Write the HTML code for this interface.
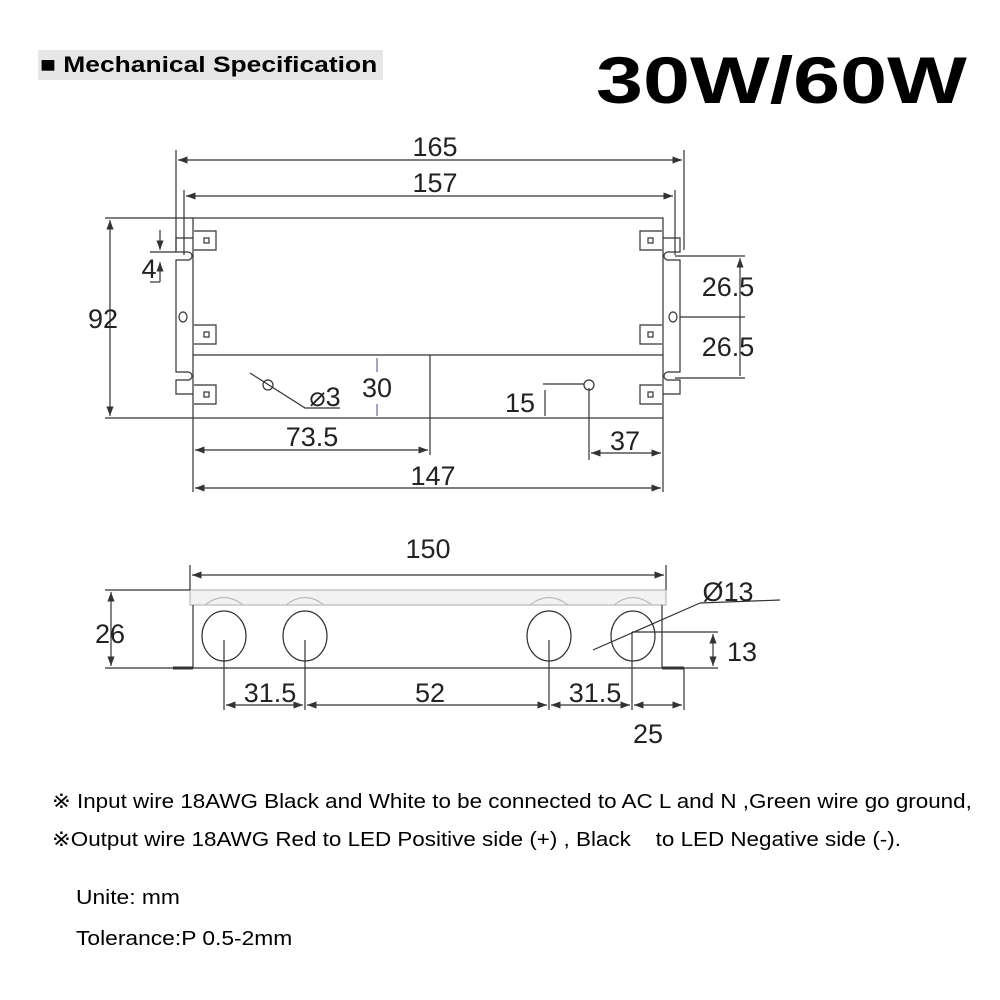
<!DOCTYPE html>
<html><head><meta charset="utf-8"><style>
body{margin:0;background:#fff;width:1000px;height:1000px;overflow:hidden;position:relative;font-family:"Liberation Sans",sans-serif}
.hdr{position:absolute;left:38px;top:50px;width:345px;height:30px;background:#e6e6e6;color:#000}
.hdr span{position:absolute;left:2px;top:0;font-weight:bold;font-size:22px;line-height:30px;white-space:nowrap;transform-origin:0 50%;transform:scaleX(1.2)}
.big{position:absolute;left:596px;top:40px;font-weight:bold;font-size:66px;line-height:80px;transform-origin:0 0;transform:scaleX(1.28);color:#000;white-space:nowrap}
.t{position:absolute;font-size:20px;color:#000;white-space:nowrap;transform-origin:0 0;transform:scaleX(1.12)}
</style></head><body>
<div class="hdr"><span>&#9632; Mechanical Specification</span></div>
<div class="big">30W/60W</div>
<svg width="1000" height="1000" style="position:absolute;left:0;top:0" font-family="Liberation Sans, sans-serif" font-size="21" fill="none" stroke="#333" stroke-width="1.2">
<defs><marker id="a" markerWidth="8" markerHeight="6" refX="8" refY="3" orient="auto-start-reverse"><path d="M0,0L8,3L0,6z" fill="#333" stroke="none"/></marker></defs>
<rect x="193" y="218" width="470" height="200"/>
<line x1="193" y1="355" x2="663" y2="355"/>
<line x1="430" y1="355" x2="430" y2="455"/>
<path d="M193,238H176V252H188A4,4 0 0 1 188,260H176V372H188A4,4 0 0 1 188,380H176V394H193"/>
<ellipse cx="183" cy="317" rx="4" ry="5"/>
<path d="M663,238H680V252H668A4,4 0 0 0 668,260H680V372H668A4,4 0 0 0 668,380H680V394H663"/>
<ellipse cx="673" cy="317" rx="4" ry="5"/>
<g>
<path d="M194,231H216V250H194"/><rect x="204" y="238" width="5" height="5"/>
<path d="M194,325H216V344H194"/><rect x="204" y="332" width="5" height="5"/>
<path d="M194,385H216V404H194"/><rect x="204" y="392" width="5" height="5"/>
<path d="M662,231H640V250H662"/><rect x="648" y="238" width="5" height="5"/>
<path d="M662,325H640V344H662"/><rect x="648" y="332" width="5" height="5"/>
<path d="M662,385H640V404H662"/><rect x="648" y="392" width="5" height="5"/>
</g>
<line x1="176" y1="150" x2="176" y2="250"/><line x1="684" y1="150" x2="684" y2="250"/>
<line x1="178" y1="160" x2="682" y2="160" marker-start="url(#a)" marker-end="url(#a)"/>
<line x1="184" y1="190" x2="184" y2="255"/><line x1="675" y1="190" x2="675" y2="255"/>
<line x1="186" y1="196" x2="673" y2="196" marker-start="url(#a)" marker-end="url(#a)"/>
<line x1="105" y1="218" x2="193" y2="218"/><line x1="105" y1="418" x2="193" y2="418"/>
<line x1="110" y1="220" x2="110" y2="416" marker-start="url(#a)" marker-end="url(#a)"/>
<line x1="150" y1="252" x2="176" y2="252"/><line x1="150" y1="282" x2="160" y2="282"/>
<line x1="160" y1="230" x2="160" y2="250" marker-end="url(#a)"/><line x1="160" y1="282" x2="160" y2="262" marker-end="url(#a)"/>
<line x1="675" y1="256" x2="745" y2="256"/><line x1="680" y1="317" x2="745" y2="317"/><line x1="675" y1="378" x2="745" y2="378"/>
<line x1="740" y1="258" x2="740" y2="376" marker-start="url(#a)"/>
<line x1="193" y1="418" x2="193" y2="492"/><line x1="663" y1="418" x2="663" y2="492"/>
<line x1="195" y1="488" x2="661" y2="488" marker-start="url(#a)" marker-end="url(#a)"/>
<line x1="195" y1="450" x2="428" y2="450" marker-start="url(#a)" marker-end="url(#a)"/>
<line x1="589" y1="388" x2="589" y2="460"/>
<line x1="591" y1="453" x2="661" y2="453" marker-start="url(#a)" marker-end="url(#a)"/>
<circle cx="589" cy="385" r="5"/>
<line x1="543" y1="384" x2="584" y2="384"/>
<line x1="545" y1="390" x2="545" y2="416"/>
<line x1="377" y1="358" x2="377" y2="372" stroke="#66a"/><line x1="377" y1="404" x2="377" y2="416" stroke="#66a"/>
<circle cx="268" cy="385" r="5"/>
<path d="M250,373L305,408H340"/>
<g fill="#222" stroke="none" font-size="27">
<text x="435" y="156" text-anchor="middle">165</text>
<text x="435" y="192" text-anchor="middle">157</text>
<text x="103" y="328" text-anchor="middle">92</text>
<text x="149" y="278" text-anchor="middle">4</text>
<text x="728" y="296" text-anchor="middle">26.5</text>
<text x="728" y="356" text-anchor="middle">26.5</text>
<text x="325" y="406" text-anchor="middle">&#8960;3</text>
<text x="377" y="397" text-anchor="middle">30</text>
<text x="520" y="412" text-anchor="middle">15</text>
<text x="312" y="446" text-anchor="middle">73.5</text>
<text x="625" y="450" text-anchor="middle">37</text>
<text x="433" y="485" text-anchor="middle">147</text>
</g>
<rect x="190" y="590" width="476" height="15" fill="#f2f2f2" stroke="#bbb"/>
<path d="M193,605V668H662V605" />
<path d="M173,668H193M662,668H684" stroke-width="3"/>
<path d="M205,605Q224,590 243,605M286,605Q305,590 324,605M530,605Q549,590 568,605M614,605Q633,590 652,605" stroke="#bbb"/>
<ellipse cx="224" cy="636" rx="22" ry="25"/><ellipse cx="305" cy="636" rx="22" ry="25"/>
<ellipse cx="549" cy="636" rx="22" ry="25"/><ellipse cx="633" cy="636" rx="22" ry="25"/>
<line x1="190" y1="565" x2="190" y2="590"/><line x1="666" y1="565" x2="666" y2="590"/>
<line x1="192" y1="575" x2="664" y2="575" marker-start="url(#a)" marker-end="url(#a)"/>
<line x1="105" y1="590" x2="190" y2="590"/><line x1="105" y1="668" x2="173" y2="668"/>
<line x1="111" y1="592" x2="111" y2="666" marker-start="url(#a)" marker-end="url(#a)"/>
<line x1="632" y1="632" x2="718" y2="632"/><line x1="684" y1="668" x2="718" y2="668"/>
<line x1="713" y1="634" x2="713" y2="666" marker-start="url(#a)" marker-end="url(#a)"/>
<line x1="593" y1="650" x2="700" y2="603"/><line x1="700" y1="603" x2="780" y2="600"/>
<line x1="224" y1="640" x2="224" y2="710"/><line x1="305" y1="640" x2="305" y2="710"/>
<line x1="549" y1="640" x2="549" y2="710"/><line x1="632" y1="632" x2="632" y2="710"/>
<line x1="684" y1="668" x2="684" y2="710"/>
<line x1="226" y1="705" x2="303" y2="705" marker-start="url(#a)" marker-end="url(#a)"/>
<line x1="307" y1="705" x2="547" y2="705" marker-start="url(#a)" marker-end="url(#a)"/>
<line x1="551" y1="705" x2="630" y2="705" marker-start="url(#a)" marker-end="url(#a)"/>
<line x1="634" y1="705" x2="682" y2="705" marker-start="url(#a)" marker-end="url(#a)"/>
<g fill="#222" stroke="none" font-size="27">
<text x="428" y="558" text-anchor="middle">150</text>
<text x="110" y="643" text-anchor="middle">26</text>
<text x="742" y="661" text-anchor="middle">13</text>
<text x="728" y="601" text-anchor="middle">&#216;13</text>
<text x="270" y="702" text-anchor="middle">31.5</text>
<text x="430" y="702" text-anchor="middle">52</text>
<text x="595" y="702" text-anchor="middle">31.5</text>
<text x="648" y="743" text-anchor="middle">25</text>
</g>
</svg>
<div class="t" style="left:52px;top:789px">&#8251; Input wire 18AWG Black and White to be connected to AC L and N ,Green wire go ground,</div>
<div class="t" style="left:52px;top:827px">&#8251;Output wire 18AWG Red to LED Positive side (+) , Black &nbsp;&nbsp; to LED Negative side (-).</div>
<div class="t" style="left:76px;top:887px;transform:scaleX(1.14)">Unite: mm</div>
<div class="t" style="left:76px;top:928px;transform:scaleX(1.14)">Tolerance:P 0.5-2mm</div>
</body></html>
